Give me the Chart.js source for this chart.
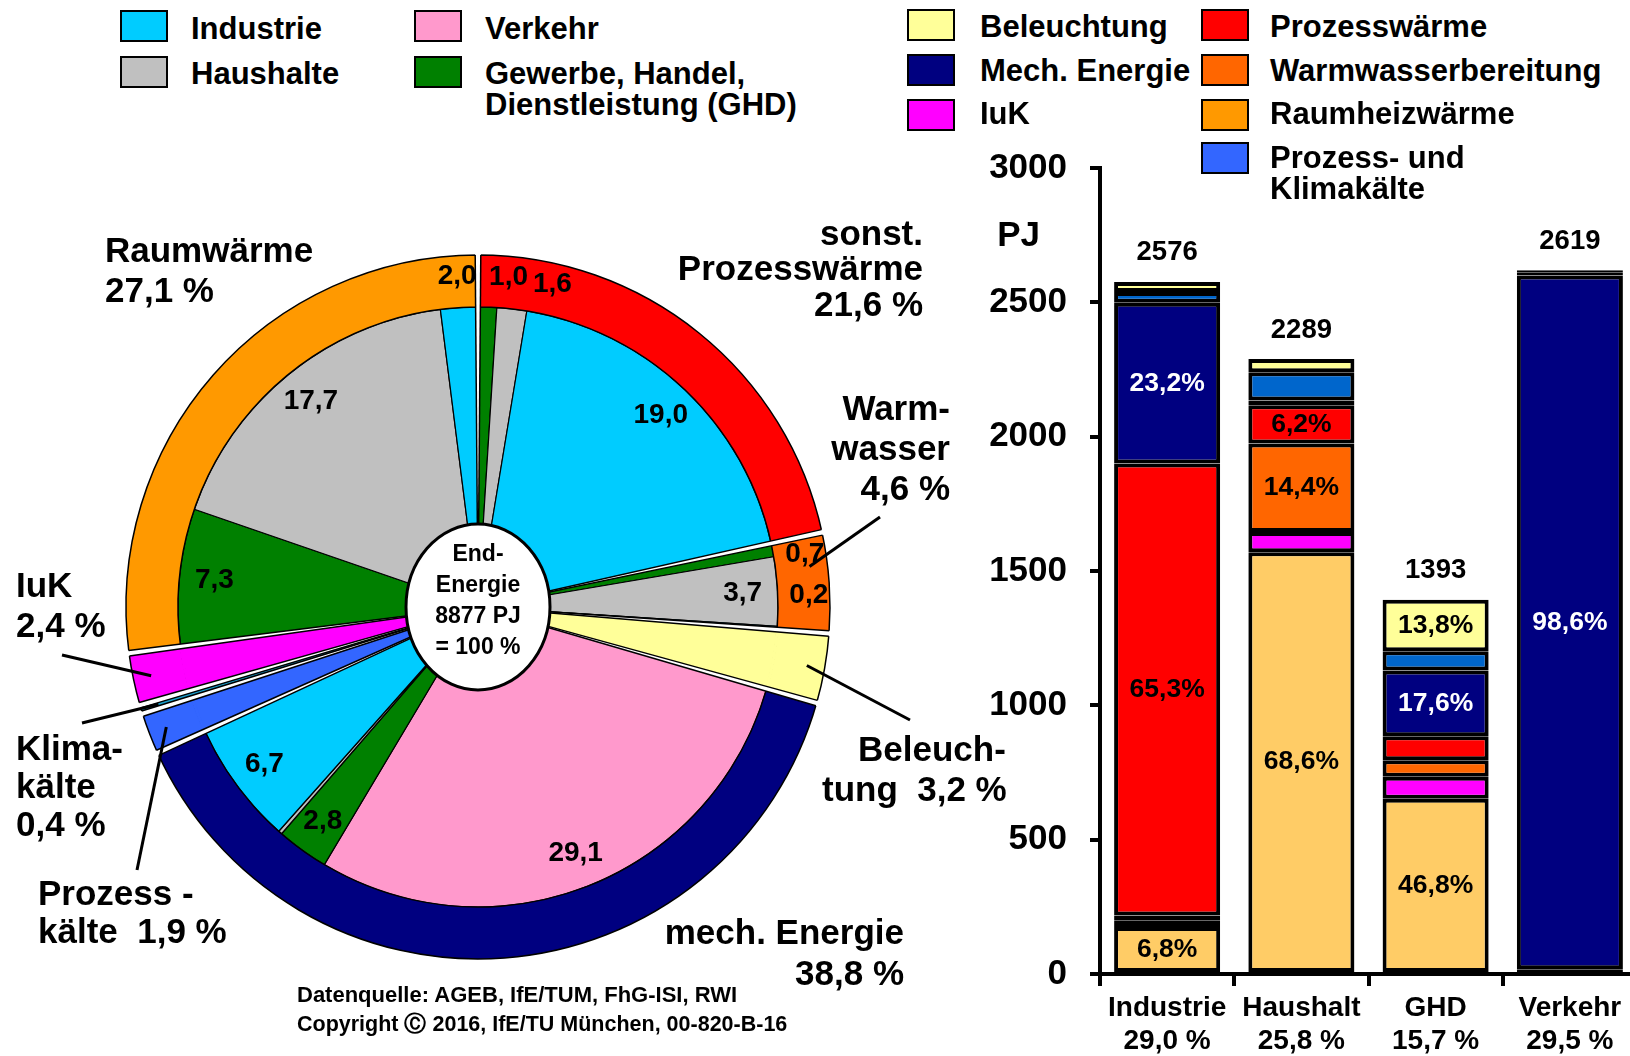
<!DOCTYPE html>
<html lang="de">
<head>
<meta charset="utf-8">
<title>Endenergieverbrauch nach Anwendungen und Sektoren</title>
<script src="https://cdn.jsdelivr.net/npm/chart.js@4.4.1/dist/chart.umd.min.js"></script>
<style>
  body {
    margin: 0;
    width: 1630px;
    height: 1056px;
    overflow: hidden;
    position: relative;
    background: #fff;
    font-family: "Liberation Sans", Arial, sans-serif;
    font-weight: bold;
    color: #000;
  }
  .txt { position: absolute; white-space: pre; }
  .box { position: absolute; width: 44px; height: 28px; border: 2px solid #000; }
  #pie { position: absolute; left: 28px; top: 157px; }
  #bars { position: absolute; left: 970px; top: 120px; }
</style>
</head>
<body>
<canvas id="pie" width="900" height="900"></canvas>
<canvas id="bars" width="667" height="940"></canvas>

<script>
"use strict";

// Kreisdiagramm: äußerer Ring = Anwendungen (Anteil in %)
const anwendungen = ["Prozesswärme", "Warmwasser", "Beleuchtung", "Mech. Energie", "Prozesskälte", "Klimakälte", "IuK", "Raumwärme"];
const anwendungAnteile = [21.6, 4.6, 3.2, 38.8, 1.9, 0.4, 2.4, 27.1];
const anwendungFarben = ["#ff0000", "#ff6600", "#ffff99", "#000080", "#3366ff", "#1a9fcc", "#ff00ff", "#ff9900"];

// innerer Kreis = Sektoren innerhalb der Anwendungen (Anteil in %)
const innenSektor = ["GHD", "Haushalte", "Industrie", "GHD", "Haushalte", "Industrie", "Beleuchtung",
    "Verkehr", "GHD", "Haushalte", "Industrie", "Prozesskälte", "Klimakälte", "IuK", "GHD", "Haushalte", "Industrie"];
const innenAnteile = [1.0, 1.6, 19.0, 0.7, 3.7, 0.2, 3.2, 29.1, 2.8, 0.2, 6.7, 1.9, 0.4, 2.4, 7.3, 17.7, 2.0];
const innenTexte = ["1,0", "1,6", "19,0", "0,7", "3,7", "0,2", "", "29,1", "2,8", "", "6,7", "", "", "", "7,3", "17,7", "2,0"];

const sektorFarben = { Industrie: "#00ccff", Haushalte: "#c0c0c0", Verkehr: "#ff99cc", GHD: "#008000" };

// Balkendiagramm: Sektoren, Summen in PJ
const sektoren = [["Industrie", "29,0 %"], ["Haushalt", "25,8 %"], ["GHD", "15,7 %"], ["Verkehr", "29,5 %"]];
const summen = [2576, 2289, 1393, 2619];
const raumheizwaerme = [175, 1570, 652, 18];
const iuk = [25, 75, 82, 0];
const warmwasser = [18, 330, 62, 0];
const prozesswaerme = [1682, 142, 89, 0];
const mechEnergie = [598, 18, 245, 2582];
const kaelte = [40, 105, 71, 10];
const beleuchtung = [38, 49, 192, 9];

const raumheizText = ["6,8%", "68,6%", "46,8%", ""];
const warmwasserText = ["", "14,4%", "", ""];
const prozesswaermeText = ["65,3%", "6,2%", "", ""];
const mechText = ["23,2%", "", "17,6%", "98,6%"];
const beleuchtungText = ["", "", "13,8%", ""];
const yTicks = [0, 500, 1000, 1500, 2000, 2500, 3000];

const schrift = '"Liberation Sans", Arial, sans-serif';

// Text als HTML platzieren
function setzeText(txt, x, y, size, align) {
    let el = document.createElement("div");
    el.className = "txt";
    el.textContent = txt;
    el.style.fontSize = size + "px";
    el.style.lineHeight = size + "px";
    el.style.top = (y - size / 2) + "px";
    if (align === "right") {
        el.style.right = (1630 - x) + "px";
    } else {
        el.style.left = x + "px";
    }
    document.body.appendChild(el);
}

function setzeBox(farbe, x, y) {
    let el = document.createElement("div");
    el.className = "box";
    el.style.background = farbe;
    el.style.left = x + "px";
    el.style.top = y + "px";
    document.body.appendChild(el);
}

// Legenden
setzeBox(sektorFarben.Industrie, 120, 10);
setzeText("Industrie", 191, 28, 31);
setzeBox(sektorFarben.Haushalte, 120, 56);
setzeText("Haushalte", 191, 73, 31);
setzeBox(sektorFarben.Verkehr, 414, 10);
setzeText("Verkehr", 485, 28, 31);
setzeBox(sektorFarben.GHD, 414, 56);
setzeText("Gewerbe, Handel,", 485, 73, 31);
setzeText("Dienstleistung (GHD)", 485, 104, 31);

setzeBox("#ffff99", 907, 9);
setzeText("Beleuchtung", 980, 26, 31);
setzeBox("#000080", 907, 54);
setzeText("Mech. Energie", 980, 70, 31);
setzeBox("#ff00ff", 907, 99);
setzeText("IuK", 980, 113, 31);
setzeBox("#ff0000", 1201, 9);
setzeText("Prozesswärme", 1270, 26, 31);
setzeBox("#ff6600", 1201, 54);
setzeText("Warmwasserbereitung", 1270, 70, 31);
setzeBox("#ff9900", 1201, 99);
setzeText("Raumheizwärme", 1270, 113, 31);
setzeBox("#3366ff", 1201, 142);
setzeText("Prozess- und", 1270, 157, 31);
setzeText("Klimakälte", 1270, 188, 31);

// Beschriftungen am Kreis
setzeText("Raumwärme", 105, 249, 35);
setzeText("27,1 %", 105, 289, 35);
setzeText("sonst.", 923, 232, 35, "right");
setzeText("Prozesswärme", 923, 267, 35, "right");
setzeText("21,6 %", 923, 303, 35, "right");
setzeText("Warm-", 950, 407, 35, "right");
setzeText("wasser", 950, 447, 35, "right");
setzeText("4,6 %", 950, 487, 35, "right");
setzeText("IuK", 16, 584, 35);
setzeText("2,4 %", 16, 624, 35);
setzeText("Klima-", 16, 747, 35);
setzeText("kälte", 16, 785, 35);
setzeText("0,4 %", 16, 823, 35);
setzeText("Prozess -", 38, 892, 35);
setzeText("kälte  1,9 %", 38, 930, 35);
setzeText("Beleuch-", 858, 748, 35);
setzeText("tung  3,2 %", 822, 788, 35);
setzeText("mech. Energie", 904, 931, 35, "right");
setzeText("38,8 %", 904, 972, 35, "right");
setzeText("PJ", 1040, 233, 35, "right");

setzeText("Datenquelle: AGEB, IfE/TUM, FhG-ISI, RWI", 297, 995, 22);
setzeText("Copyright \u24b8 2016, IfE/TU München, 00-820-B-16", 297, 1025, 21.5);

// Farben für den inneren Kreis
let innenFarben = innenSektor.map((s) => {
    if (sektorFarben[s]) {
        return sektorFarben[s];
    }
    return anwendungFarben[anwendungen.indexOf(s)];
});

// Winkelverschiebung für kleine Werte im Ring (Grad)
const ringVersatz = { "1,0": 3.5, "1,6": 6.5, "0,7": 1.8, "0,2": -6 };

// Führungslinien: Anwendung -> Endpunkt beim Text (Seitenkoordinaten)
const fuehrung = [
    { idx: 6, x: 62, y: 655 },
    { idx: 5, x: 82, y: 723 },
    { idx: 4, x: 137, y: 870 },
    { idx: 1, x: 880, y: 517, versatz: -3 },
    { idx: 2, x: 910, y: 720 }
];

// Lücken zwischen den Anwendungen, Mittelkreis und Beschriftungen
const kreisPlugin = {
    id: "kreisDeko",
    afterDatasetsDraw(chart) {
        let ctx = chart.ctx;
        let ring = chart.getDatasetMeta(0).data;
        let cx = ring[0].x;
        let cy = ring[0].y;
        let R = ring[0].outerRadius;
        let d = 2.8 / R;

        ctx.save();

        // durchgehende Keile: Trennlinie zwischen Ring und Innenkreis entfernen
        ring.forEach((arc, i) => {
            if (innenSektor.includes(anwendungen[i])) {
                ctx.strokeStyle = anwendungFarben[i];
                ctx.lineWidth = 3;
                ctx.beginPath();
                ctx.arc(cx, cy, arc.innerRadius, arc.startAngle + 0.004, arc.endAngle - 0.004);
                ctx.stroke();
            }
        });

        ring.forEach((arc) => {
            let a = arc.startAngle;
            ctx.fillStyle = "#fff";
            ctx.beginPath();
            ctx.moveTo(cx, cy);
            ctx.lineTo(cx + (R + 12) * Math.cos(a - d), cy + (R + 12) * Math.sin(a - d));
            ctx.lineTo(cx + (R + 12) * Math.cos(a + d), cy + (R + 12) * Math.sin(a + d));
            ctx.closePath();
            ctx.fill();

            ctx.strokeStyle = "#000";
            ctx.lineWidth = 1.5;
            [a - d, a + d].forEach((b) => {
                ctx.beginPath();
                ctx.moveTo(cx + 40 * Math.cos(b), cy + 40 * Math.sin(b));
                ctx.lineTo(cx + R * Math.cos(b), cy + R * Math.sin(b));
                ctx.stroke();
            });
        });

        // Führungslinien
        let canvasLeft = chart.canvas.offsetLeft;
        let canvasTop = chart.canvas.offsetTop;
        ctx.strokeStyle = "#000";
        ctx.lineWidth = 3;
        fuehrung.forEach((f) => {
            let arc = ring[f.idx];
            let m = (arc.startAngle + arc.endAngle) / 2 + (f.versatz || 0) * Math.PI / 180;
            let r = (arc.innerRadius + arc.outerRadius) / 2 + 8;
            ctx.beginPath();
            ctx.moveTo(cx + r * Math.cos(m), cy + r * Math.sin(m));
            ctx.lineTo(f.x - canvasLeft, f.y - canvasTop);
            ctx.stroke();
        });

        // Mittelkreis
        ctx.fillStyle = "#fff";
        ctx.lineWidth = 3;
        ctx.beginPath();
        ctx.ellipse(cx, cy, 72, 83, 0, 0, Math.PI * 2);
        ctx.fill();
        ctx.stroke();

        ctx.fillStyle = "#000";
        ctx.textAlign = "center";
        ctx.textBaseline = "middle";
        ctx.font = "bold 23px " + schrift;
        ["End-", "Energie", "8877 PJ", "= 100 %"].forEach((z, i) => {
            ctx.fillText(z, cx, cy - 52 + i * 31);
        });

        // Werte im inneren Kreis
        let innen = chart.getDatasetMeta(1).data;
        ctx.font = "bold 28px " + schrift;
        innen.forEach((arc, i) => {
            let t = innenTexte[i];
            if (!t) {
                return;
            }
            let m = (arc.startAngle + arc.endAngle) / 2;
            let r = 265;
            if (innenAnteile[i] < 2.5) {
                r = 331;
                m += (ringVersatz[t] || 0) * Math.PI / 180;
            }
            ctx.fillText(t, cx + r * Math.cos(m), cy + r * Math.sin(m));
        });
        ctx.restore();
    }
};

new Chart(document.getElementById("pie"), {
    type: "pie",
    data: {
        labels: innenSektor,
        datasets: [{
            label: "Anwendungen",
            data: anwendungAnteile,
            backgroundColor: anwendungFarben,
            borderColor: "#000",
            borderWidth: 1.5,
            weight: 52
        }, {
            label: "Sektoren",
            data: innenAnteile,
            backgroundColor: innenFarben,
            borderColor: "#000",
            borderWidth: 1.2,
            weight: 300
        }]
    },
    options: {
        responsive: false,
        animation: false,
        events: [],
        radius: 352,
        layout: { padding: 0 },
        plugins: {
            legend: { display: false },
            tooltip: { enabled: false }
        }
    },
    plugins: [kreisPlugin]
});

// Prozentwerte in den Balken und Summen darüber
const balkenPlugin = {
    id: "balkenText",
    afterDatasetsDraw(chart) {
        let ctx = chart.ctx;
        ctx.save();
        ctx.textAlign = "center";
        ctx.textBaseline = "middle";
        ctx.font = "bold 26.5px " + schrift;
        chart.data.datasets.forEach((ds, i) => {
            if (!ds.texte) {
                return;
            }
            chart.getDatasetMeta(i).data.forEach((bar, j) => {
                if (!ds.texte[j]) {
                    return;
                }
                ctx.fillStyle = ds.textFarbe;
                ctx.fillText(ds.texte[j], bar.x, (bar.y + bar.base) / 2);
            });
        });
        let yScale = chart.scales.y;
        let xScale = chart.scales.x;
        ctx.fillStyle = "#000";
        ctx.font = "bold 27.5px " + schrift;
        summen.forEach((s, j) => {
            ctx.fillText(String(s), xScale.getPixelForValue(j), yScale.getPixelForValue(s) - 29);
        });
        ctx.restore();
    }
};

function balken(label, werte, farbe, texte, textFarbe) {
    return {
        label: label,
        data: werte,
        backgroundColor: farbe,
        borderColor: "#000",
        borderWidth: 4,
        borderSkipped: false,
        barPercentage: 0.79,
        categoryPercentage: 1.0,
        texte: texte,
        textFarbe: textFarbe || "#000"
    };
}

new Chart(document.getElementById("bars"), {
    type: "bar",
    data: {
        labels: sektoren,
        datasets: [
            balken("Raumheizwärme", raumheizwaerme, "#ffcc66", raumheizText),
            balken("IuK", iuk, "#ff00ff"),
            balken("Warmwasserbereitung", warmwasser, "#ff6600", warmwasserText),
            balken("Prozesswärme", prozesswaerme, "#ff0000", prozesswaermeText),
            balken("Mech. Energie", mechEnergie, "#000080", mechText, "#fff"),
            balken("Prozess- und Klimakälte", kaelte, "#0066cc"),
            balken("Beleuchtung", beleuchtung, "#ffff99", beleuchtungText)
        ]
    },
    options: {
        responsive: false,
        animation: false,
        events: [],
        layout: { padding: { top: 48, right: 0, bottom: 0, left: 0 } },
        plugins: {
            legend: { display: false },
            tooltip: { enabled: false }
        },
        scales: {
            x: {
                stacked: true,
                grid: {
                    offset: true,
                    drawOnChartArea: false,
                    drawTicks: true,
                    tickLength: 12,
                    color: "#000",
                    lineWidth: 4
                },
                border: { color: "#000", width: 4 },
                ticks: {
                    color: "#000",
                    padding: 6,
                    font: { family: schrift, size: 28, weight: "bold", lineHeight: 1.18 }
                },
                afterFit(scale) {
                    scale.height = 86;
                }
            },
            y: {
                stacked: true,
                min: 0,
                max: 3000,
                afterBuildTicks(scale) {
                    scale.ticks = yTicks.map((v) => ({ value: v }));
                },
                grid: {
                    drawOnChartArea: false,
                    drawTicks: true,
                    tickLength: 10,
                    color: "#000",
                    lineWidth: 4
                },
                border: { color: "#000", width: 4 },
                ticks: {
                    color: "#000",
                    padding: 23,
                    font: { family: schrift, size: 35, weight: "bold" },
                    callback: (v) => String(v)
                },
                afterFit(scale) {
                    scale.width = 130;
                }
            }
        }
    },
    plugins: [balkenPlugin]
});
</script>
</body>
</html>
